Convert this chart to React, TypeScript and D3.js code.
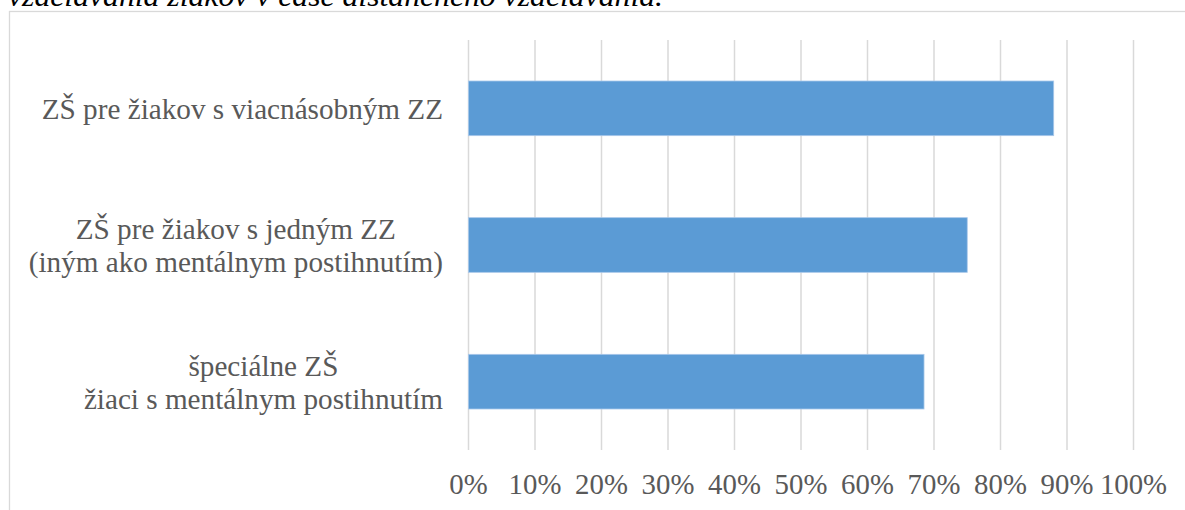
import React, { useEffect, useRef } from "react";
import * as d3 from "d3";

const TITLE = "vzdelávania žiakov v čase dištančného vzdelávania.";
const categories: string[][] = [
  ["ZŠ pre žiakov s viacnásobným ZZ"],
  ["ZŠ pre žiakov s jedným ZZ", "(iným ako mentálnym postihnutím)"],
  ["špeciálne ZŠ", "žiaci s mentálnym postihnutím"],
];
const values = [0.88, 0.75, 0.685];
const ticks = [0, 0.1, 0.2, 0.3, 0.4, 0.5, 0.6, 0.7, 0.8, 0.9, 1.0];

const W = 1185;
const H = 510;
const FONT = "Liberation Serif";
const FS = "29.2px";

export default function App() {
  const ref = useRef<SVGSVGElement>(null);
  useEffect(() => {
    const svg = d3.select(ref.current!);
    svg.selectAll("*").remove();

    const x = d3.scaleLinear().domain([0, 1]).range([468.5, 1133.5]);
    const y = d3
      .scaleBand<number>()
      .domain(categories.map((_, i) => i))
      .range([40, 450])
      .paddingInner(0.6)
      .paddingOuter(0.3);

    // title (clipped at top)
    svg
      .append("text")
      .attr("x", 8)
      .attr("y", 6)
      .attr("textLength", 655)
      .attr("lengthAdjust", "spacingAndGlyphs")
      .style("font-family", FONT)
      .style("font-style", "italic")
      .style("font-size", "29.5px")
      .attr("fill", "#000")
      .text(TITLE);

    // chart frame
    svg
      .append("rect")
      .attr("x", 9.5)
      .attr("y", 11.5)
      .attr("width", W + 20)
      .attr("height", H + 20)
      .attr("fill", "#fff")
      .attr("stroke", "#d9d9d9")
      .attr("stroke-width", 1.3);

    // gridlines
    svg
      .append("g")
      .selectAll("line")
      .data(ticks)
      .join("line")
      .attr("x1", (d) => x(d))
      .attr("x2", (d) => x(d))
      .attr("y1", 40)
      .attr("y2", 450)
      .attr("stroke", "#d9d9d9")
      .attr("stroke-width", 1.5);

    // bars
    svg
      .append("g")
      .selectAll("rect")
      .data(values)
      .join("rect")
      .attr("x", x(0))
      .attr("y", (_, i) => y(i)!)
      .attr("width", (d) => x(d) - x(0))
      .attr("height", y.bandwidth())
      .attr("fill", "#5b9bd5")
      .attr("stroke", "#a9c8ea")
      .attr("stroke-width", 0.8);

    // tick labels
    svg
      .append("g")
      .selectAll("text")
      .data(ticks)
      .join("text")
      .attr("x", (d) => x(d))
      .attr("y", 494)
      .attr("text-anchor", "middle")
      .style("font-family", FONT)
      .style("font-size", "28.8px")
      .attr("fill", "#595959")
      .text((d) => d3.format(".0%")(d));

    // category labels
    const rightEdge = 443;
    const lineH = 33;
    categories.forEach((lines, i) => {
      const g = svg.append("g");
      const cy = y(i)! + y.bandwidth() / 2;
      const texts = lines.map((l, j) =>
        g
          .append("text")
          .style("font-family", FONT)
          .style("font-size", FS)
          .attr("fill", "#595959")
          .attr("text-anchor", "middle")
          .attr("y", cy + 10.5 + (j - (lines.length - 1) / 2) * lineH)
          .text(l)
      );
      const widths = texts.map((t) => (t.node() as SVGTextElement).getComputedTextLength());
      const maxW = Math.max(...widths);
      const cx = rightEdge - maxW / 2;
      texts.forEach((t) => t.attr("x", cx));
    });
  }, []);

  return (
    <svg
      ref={ref}
      width={W}
      height={H}
      style={{ position: "absolute", left: 0, top: 0, background: "#fff" }}
    />
  );
}
